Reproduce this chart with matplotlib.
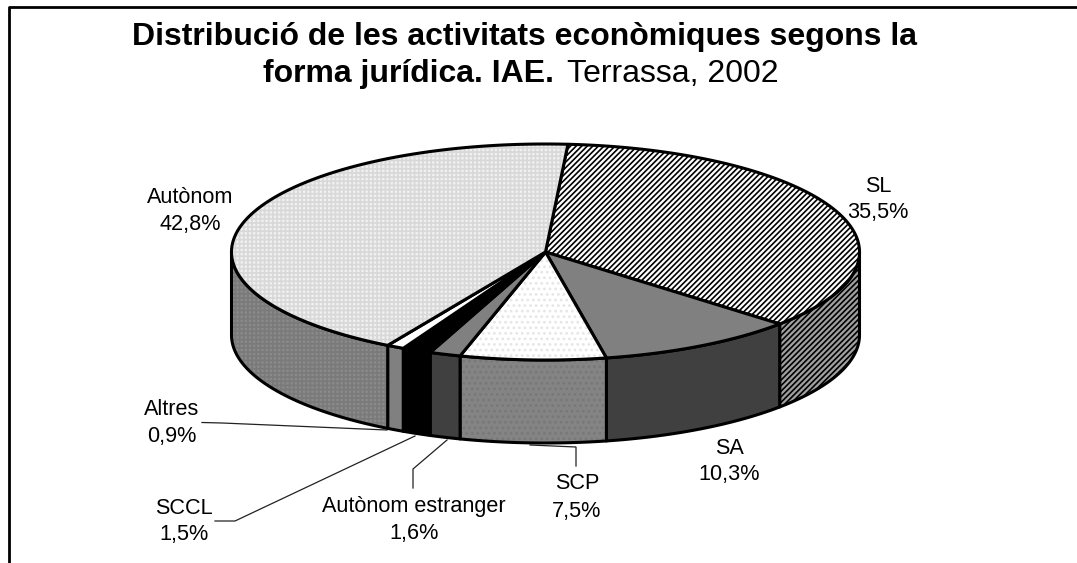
import numpy as np
import matplotlib
matplotlib.use("Agg")
import matplotlib.pyplot as plt
from matplotlib.patches import Polygon

plt.rcParams['font.family'] = ['Liberation Sans', 'DejaVu Sans']
plt.rcParams['hatch.linewidth'] = 1.2

# Data, clockwise starting from the SL slice
labels = ['SL', 'SA', 'SCP', 'Autònom estranger', 'SCCL', 'Altres', 'Autònom']
values = [35.5, 10.3, 7.5, 1.6, 1.5, 0.9, 42.8]
title_bold_1 = 'Distribució de les activitats econòmiques segons la'
title_bold_2 = 'forma jurídica. IAE.'
title_normal = 'Terrassa, 2002'

# Pie geometry in pixels
cx, cy = 545.5, 252
rx, ry = 314, 108
depth = 83
start = 4.1

# Fill style per slice: (face, hatch, hatch colour)
top_styles = [
    ('white', '//////', 'black'),
    ('#808080', None, None),
    ('white', '...', '#e6e6e6'),
    ('#808080', None, None),
    ('black', None, None),
    ('white', None, None),
    ('#f0f0f0', '++++', '#d8d8d8'),
]
side_styles = [
    ('#a0a0a0', '//////', 'black'),
    ('#404040', None, None),
    ('#848484', '...', '#787878'),
    ('#404040', None, None),
    ('black', None, None),
    ('#808080', None, None),
    ('#8a8a8a', '++++', '#7a7a7a'),
]

# Label centre x and the two baselines
label_pos = [(878, 192, 218), (729, 454, 480), (577, 489, 517),
             (414, 512, 539), (184, 514, 540), (172, 415, 442), (190, 203, 230)]

# Leader lines
leaders = {
    'SCP': ([530, 576, 576], [445, 447, 466]),
    'Autònom estranger': ([413, 413, 447], [488, 469, 440]),
    'SCCL': ([215, 235, 415], [521, 521, 436]),
    'Altres': ([202, 222, 387], [422.5, 423, 430]),
}


def arc(a0, a1, dy=0):
    t = np.radians(np.linspace(a0, a1, max(int(abs(a1 - a0)) * 2, 2)))
    return np.column_stack([cx + rx * np.sin(t), cy - ry * np.cos(t) + dy])


def draw(points, style):
    face, hatch, hcol = style
    if hatch:
        ax.add_patch(Polygon(points, closed=True, facecolor=face, hatch=hatch,
                             edgecolor=hcol, linewidth=0))
        ax.add_patch(Polygon(points, closed=True, fill=False, edgecolor='black',
                             linewidth=2.2, joinstyle='round'))
    else:
        ax.add_patch(Polygon(points, closed=True, facecolor=face, edgecolor='black',
                             linewidth=2.2, joinstyle='round'))


fig = plt.figure(figsize=(10.77, 5.63), dpi=100)
ax = fig.add_axes([0, 0, 1, 1])
ax.set_xlim(0, 1077)
ax.set_ylim(563, 0)
ax.axis('off')

# Frame, open at the right and bottom
ax.plot([1077, 9, 9], [7, 7, 563], color='black', lw=2)

total = sum(values)
angles = start + np.cumsum([0] + values) / total * 360

# Leaders go under the pie
for name, (xs, ys) in leaders.items():
    ax.plot(xs, ys, color='#222222', lw=0.9, solid_joinstyle='miter', zorder=0.5)

# Sides first, then the top faces
for i in range(len(values)):
    a0 = max(angles[i], 90)
    a1 = min(angles[i + 1], 270)
    if a1 > a0:
        draw(np.vstack([arc(a0, a1), arc(a1, a0, depth)]), side_styles[i])

for i in range(len(values)):
    pts = np.vstack([[[cx, cy]], arc(angles[i], angles[i + 1])])
    draw(pts, top_styles[i])

for name, val, (x, y1, y2) in zip(labels, values, label_pos):
    ax.text(x, y1, name, ha='center', va='baseline', fontsize=15.6, color='black')
    ax.text(x, y2, f'{val:.1f}%'.replace('.', ','), ha='center', va='baseline',
            fontsize=15.6, color='black')

ax.text(524, 45, title_bold_1, ha='center', va='baseline', fontsize=23, fontweight='bold')
ax.text(263, 82, title_bold_2, ha='left', va='baseline', fontsize=23, fontweight='bold')
ax.text(567, 82, title_normal, ha='left', va='baseline', fontsize=23)

fig.savefig('out.png', dpi=100)
